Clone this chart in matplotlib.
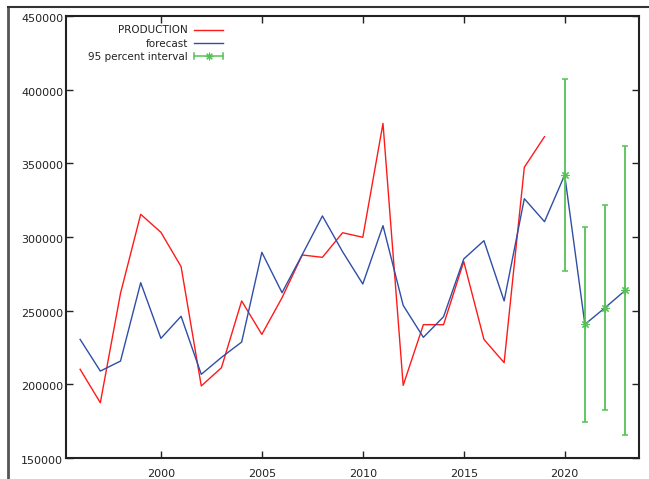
import numpy as np
import matplotlib
matplotlib.use('Agg')
import matplotlib.pyplot as plt
from matplotlib.lines import Line2D
from matplotlib.legend_handler import HandlerBase
from matplotlib.transforms import ScaledTranslation

# dados
anos_obs = list(range(1996, 2020))
production = [210200, 187500, 261800, 315400, 303200, 279900, 198900, 211300,
              256600, 233900, 258800, 287800, 286200, 302900, 299800, 377100,
              199300, 240500, 240500, 283300, 230500, 214700, 347300, 368100]

anos_fc = list(range(1996, 2024))
forecast = [230500, 209000, 215800, 269000, 231200, 246200, 206800, 218300,
            228700, 289600, 262200, 288000, 314300, 290000, 268100, 307700,
            253600, 231900, 245900, 285100, 297500, 256600, 326000, 310400,
            342100, 240700, 252000, 263800]

anos_ic = [2020, 2021, 2022, 2023]
ic_low = [276900, 174100, 182400, 165700]
ic_high = [407400, 307100, 321400, 361900]

x_ticks = [2000, 2005, 2010, 2015, 2020]
y_ticks = [150000, 200000, 250000, 300000, 350000, 400000, 450000]

RED = '#ff1a1a'
BLUE = '#2f4fa6'
GREEN = '#55c255'
AST = (8, 2, 0)


class HandlerIntervalo(HandlerBase):
    # linha horizontal com barras nas pontas e asterisco no meio (estilo gnuplot)
    def create_artists(self, legend, orig_handle, xdescent, ydescent,
                       width, height, fontsize, trans):
        y = height / 2 - ydescent
        x0, x1 = -xdescent, width - xdescent
        h = 2.2
        arts = [
            Line2D([x0, x1], [y, y], color=GREEN, lw=1.1),
            Line2D([x0, x0], [y - h, y + h], color=GREEN, lw=1.1),
            Line2D([x1, x1], [y - h, y + h], color=GREEN, lw=1.1),
            Line2D([(x0 + x1) / 2], [y], color=GREEN, marker=AST,
                   markersize=5.5, mew=0.8, linestyle='none'),
        ]
        for a in arts:
            a.set_transform(trans)
        return arts


plt.rcParams['font.family'] = 'DejaVu Sans'

fig = plt.figure(figsize=(6.49, 4.79), dpi=100)
ax = fig.add_axes([66 / 649, 21 / 479, 573 / 649, 442 / 479])

ax.plot(anos_obs, production, color=RED, lw=1.0, label='PRODUCTION')
ax.plot(anos_fc, forecast, color=BLUE, lw=1.0, label='forecast')

fc_ic = [forecast[anos_fc.index(a)] for a in anos_ic]
err = [np.array(fc_ic) - np.array(ic_low), np.array(ic_high) - np.array(fc_ic)]
ax.errorbar(anos_ic, fc_ic, yerr=err, fmt='none', ecolor=GREEN,
            elinewidth=1.3, capsize=2.3, capthick=1.1)
ax.plot(anos_ic, fc_ic, linestyle='none', marker=AST, color=GREEN,
        markersize=6, mew=0.8)

ax.set_xlim(1995.3, 2023.68)
ax.set_ylim(150000, 450000)
ax.set_xticks(x_ticks)
ax.set_yticks(y_ticks)

ax.tick_params(direction='in', length=5, width=1.0, top=True, right=True,
               labelsize=8, labelcolor='#222222', color='#222222')
ax.tick_params(axis='x', pad=8)
ax.tick_params(axis='y', pad=2)
for s in ax.spines.values():
    s.set_linewidth(1.5)
    s.set_color('#222222')

# rotulos do eixo y um pouco abaixo do tick, como no gnuplot
desloc = ScaledTranslation(0, -2 / 100, fig.dpi_scale_trans)
for lab in ax.get_yticklabels():
    lab.set_transform(lab.get_transform() + desloc)

proxy_ic = Line2D([], [], color=GREEN)
h1, l1 = ax.get_legend_handles_labels()
leg = ax.legend(h1 + [proxy_ic], l1 + ['95 percent interval'],
                handler_map={proxy_ic: HandlerIntervalo()},
                loc='upper left', bbox_to_anchor=(0.0274, 0.9927),
                frameon=False, markerfirst=False, fontsize=7.5,
                handlelength=2.8, handletextpad=0.6, labelspacing=0.3,
                borderaxespad=0.2)
for t in leg.get_texts():
    t.set_color('#222222')

# moldura externa da janela
fig.add_artist(Line2D([8 / 649, 8 / 649], [0, 1 - 7 / 479], color='#555555', lw=2))
fig.add_artist(Line2D([8 / 649, 1], [1 - 7 / 479, 1 - 7 / 479], color='#333333', lw=1.5))

fig.savefig('out.png', dpi=100)
